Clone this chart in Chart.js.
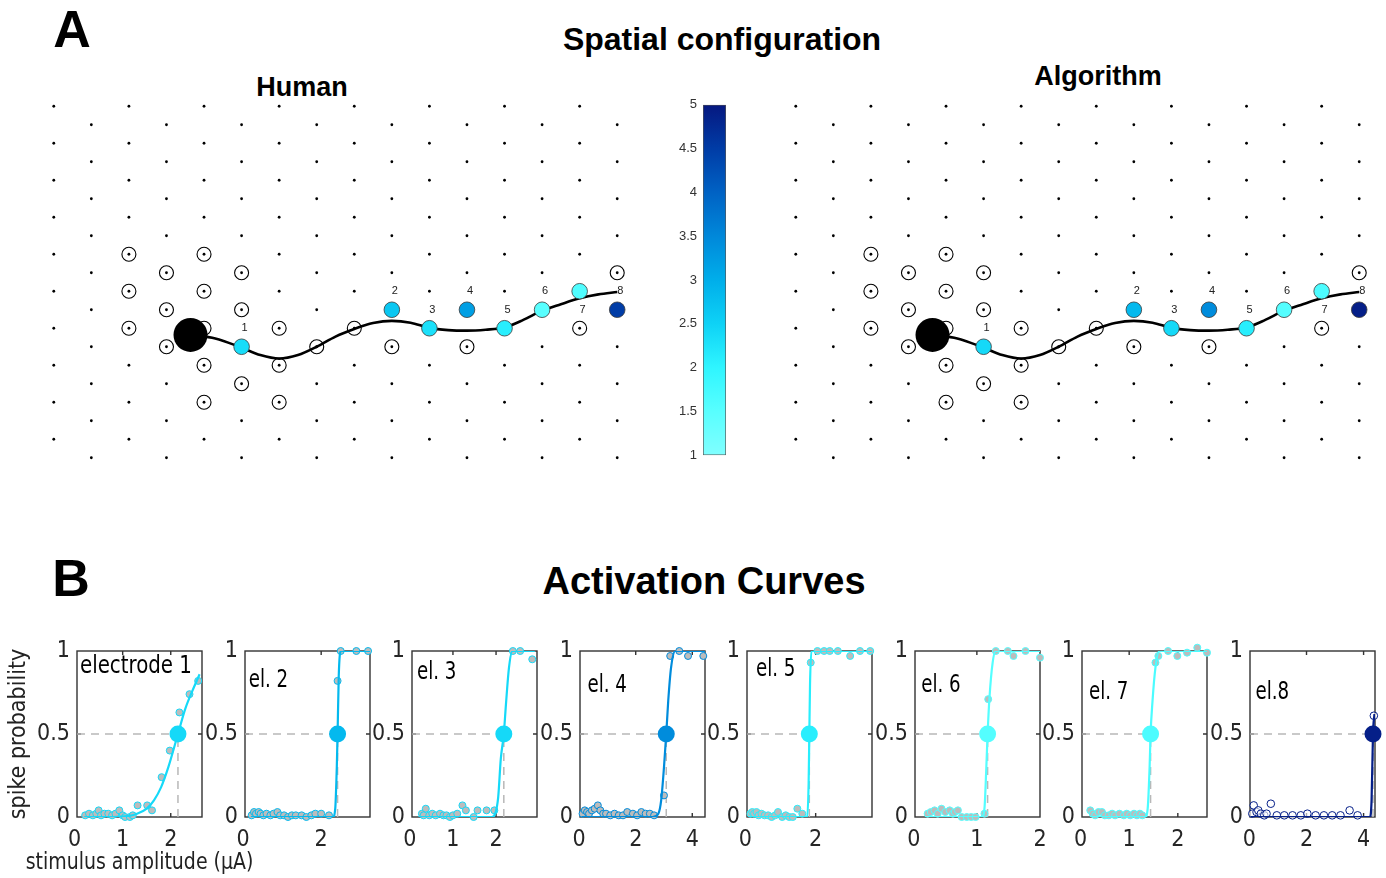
<!DOCTYPE html>
<html><head><meta charset="utf-8">
<script src="https://cdn.jsdelivr.net/npm/chart.js"></script>
<style>
html,body{margin:0;padding:0;background:#fff;width:1386px;height:878px;overflow:hidden;position:relative;font-family:"Liberation Sans",Arial,sans-serif}
canvas{position:absolute}
.t{position:absolute;font-weight:bold;color:#000;line-height:1;white-space:nowrap;transform:translate(-50%,-50%)}
</style></head><body>
<div class="t" style="left:72px;top:29px;font-size:52px">A</div>
<div class="t" style="left:722px;top:39px;font-size:32px">Spatial configuration</div>
<div class="t" style="left:302px;top:87px;font-size:27px">Human</div>
<div class="t" style="left:1098px;top:76px;font-size:27px">Algorithm</div>
<div class="t" style="left:71px;top:578px;font-size:52px">B</div>
<div class="t" style="left:704px;top:581px;font-size:38px">Activation Curves</div>
<script>
// ---------------- DATA: panel A (electrode array, grid units) ----------------
const gridColumns = [0,1,2,3,4,5,6,7,8,9,10,11,12,13,14,15];
const gridRows = [0,1,2,3,4,5,6,7,8,9,10,11,12,13,14,15,16,17,18,19];
const ringCols = [2,4,3,5,15,2,4,3,5,2,4,6,8,14,3,7,9,11,4,6,5,4,6];
const ringRows = [8,8,9,9,9,10,10,11,11,12,12,12,12,12,13,13,13,13,14,14,15,16,16];
const stimCols = [5,9,10,11,12,13,14,15];
const stimRows = [13,11,12,11,12,11,10,11];
const stimNumbers = ['1','2','3','4','5','6','7','8'];
const labelCols = [5,9,10,11,12,13,14,15];
const labelRows = [12,10,11,10,11,10,11,10];
const somaPos = [3.64, 12.36];
const axonCols = [3.64,4.3,5,5.5,6,6.5,7,7.5,8,8.5,9,9.5,10,10.5,11,11.5,12,12.5,13,13.5,14,14.5,15];
const axonRows = [12.36,12.55,13.05,13.45,13.64,13.45,13.0,12.45,12.04,11.72,11.6,11.7,11.98,12.1,12.13,12.08,11.96,11.55,11.05,10.7,10.38,10.17,10.04];
const humanValues = [2.35,2.65,2.3,3.2,2.1,1.5,1.6,4.5];
const algorithmValues = [2.4,2.85,2.4,3.45,2.1,1.55,1.65,4.9];
const colorbarRange = [1,5];
const colorbarTicks = [1,1.5,2,2.5,3,3.5,4,4.5,5];
const colormapValues = [1,1.5,2,2.5,3,3.5,4,4.5,5];
const colormapColors = ['#80ffff','#58ffff','#2ff5ff','#0ed2f6','#00aeea','#0088da','#0062c4','#003ca6','#061880'];

// ---------------- DATA: panel B (activation curves) ----------------
const curveNames = ['electrode 1','el. 2','el. 3','el. 4','el. 5','el. 6','el. 7','el.8'];
const ampMin = [0.05,0.05,0.05,0.03,0.05,0.02,0.03,0.02];
const ampMax = [2.65,3.25,2.95,4.45,3.6,2.0,2.6,4.4];
const ampTicks = [[0,1,2],[0,2],[0,1,2],[0,2,4],[0,2],[0,1,2],[0,1,2],[0,2,4]];
const probTicks = [0,0.5,1];
const thresholds = [2.15,2.42,2.18,3.08,1.82,1.17,1.44,4.33];
const measuredAmps = [
 [0.22,0.3,0.38,0.45,0.5,0.55,0.62,0.7,0.78,0.85,0.93,1.0,1.05,1.15,1.21,1.31,1.51,1.61,1.81,1.98,2.18,2.39,2.57],
 [0.22,0.28,0.33,0.4,0.45,0.52,0.6,0.7,0.78,0.88,0.95,1.05,1.15,1.25,1.35,1.5,1.62,1.75,1.85,2.0,2.2,2.42,2.5,2.9,3.2],
 [0.28,0.32,0.37,0.45,0.52,0.6,0.7,0.78,0.85,0.93,1.0,1.1,1.22,1.3,1.48,1.57,1.78,1.96,2.39,2.56,2.84],
 [0.12,0.2,0.28,0.35,0.45,0.55,0.66,0.75,0.85,0.95,1.1,1.25,1.4,1.55,1.7,1.9,2.05,2.2,2.35,2.5,2.65,3.0,3.22,3.54,3.85,4.39],
 [0.15,0.2,0.25,0.32,0.38,0.46,0.55,0.65,0.75,0.85,0.93,1.05,1.15,1.25,1.35,1.48,1.62,1.86,2.05,2.24,2.4,2.63,2.98,3.26,3.55],
 [0.22,0.27,0.33,0.38,0.44,0.5,0.57,0.62,0.65,0.7,0.76,0.84,0.91,0.98,1.12,1.18,1.3,1.49,1.58,1.77,2.0],
 [0.2,0.25,0.3,0.37,0.44,0.5,0.58,0.65,0.71,0.8,0.89,0.95,1.02,1.1,1.16,1.22,1.27,1.54,1.6,1.8,1.99,2.19,2.4,2.6],
 [0.1,0.15,0.25,0.31,0.4,0.52,0.6,0.75,0.96,1.22,1.51,1.8,2.03,2.32,2.61,2.9,3.19,3.51,3.79,4.36]
];
const measuredProbs = [
 [0.01,0.02,0.01,0.02,0.04,0.01,0.02,0.02,0.01,0.02,0.04,0.01,0,0,0.01,0.07,0.07,0.04,0.24,0.4,0.63,0.74,0.82],
 [0.01,0.03,0.02,0.03,0.02,0.01,0.02,0.01,0.02,0.03,0.01,0.01,0,0.01,0.01,0.01,0,0.01,0.02,0.02,0.01,0.82,1,1,1],
 [0.02,0.01,0.05,0.01,0.02,0.01,0.02,0.01,0.01,0,0.01,0.02,0.07,0.04,0,0.04,0.04,0.04,1,1,0.95],
 [0.02,0.04,0.03,0.02,0.04,0.05,0.07,0.04,0.02,0.02,0.01,0.02,0.01,0.01,0.03,0.02,0.01,0.03,0.02,0.02,0.01,0.13,0.97,1,0.97,0.97],
 [0.02,0.03,0.02,0.03,0.01,0.02,0.01,0.01,0,0.01,0.03,0,0.01,0,0,0.05,0.02,0.93,1,1,1,1,0.97,1,1],
 [0.02,0.03,0.04,0.02,0.05,0.03,0.04,0.02,0.03,0.04,0,0,0,0,0.02,0.71,1,1,0.97,1,0.96],
 [0.04,0.02,0.01,0.03,0.03,0.01,0.01,0.02,0.01,0.02,0.01,0.02,0.01,0.02,0.01,0.02,0.01,0.93,0.97,1,0.97,0.99,1.02,0.99],
 [0.02,0.07,0.03,0.04,0.02,0.01,0.02,0.08,0.01,0.01,0.01,0.01,0.02,0.01,0.01,0.01,0.01,0.04,0.01,0.61]
];
const fitAmps = [
 [0.2,0.8,1.1,1.3,1.5,1.65,1.8,1.95,2.15,2.3,2.45,2.6],
 [0.2,2.3,2.36,2.4,2.42,2.45,2.5,3.25],
 [0.2,1.9,1.98,2.05,2.11,2.18,2.23,2.3,2.38,2.9],
 [0.1,2.6,2.8,2.9,3.0,3.08,3.15,3.25,3.4,4.45],
 [0.1,1.76,1.8,1.82,1.84,1.88,3.6],
 [0.2,1.08,1.12,1.15,1.17,1.2,1.25,1.3,2.0],
 [0.2,1.33,1.38,1.42,1.44,1.48,1.54,1.62,2.6],
 [0.05,4.22,4.28,4.33,4.38]
];
const fitProbs = [
 [0,0,0.005,0.02,0.05,0.1,0.18,0.3,0.5,0.65,0.76,0.86],
 [0,0,0.05,0.3,0.5,0.85,1,1],
 [0,0,0.02,0.12,0.35,0.5,0.68,0.9,1,1],
 [0,0,0.02,0.1,0.3,0.5,0.7,0.9,1,1],
 [0,0,0.2,0.5,0.8,1,1],
 [0,0,0.05,0.3,0.5,0.72,0.93,1,1],
 [0,0,0.05,0.3,0.5,0.7,0.9,1,1],
 [0,0,0.1,0.5,0.62]
];

// ---------------- helpers ----------------
function hexToRgb(h){const n=parseInt(h.slice(1),16);return [(n>>16)&255,(n>>8)&255,n&255];}
function valueColor(v){
  for(let k=0;k<colormapValues.length-1;k++){
    const a=colormapValues[k],b=colormapValues[k+1];
    if(v<=b||k===colormapValues.length-2){
      const t=Math.max(0,Math.min(1,(v-a)/(b-a)));
      const c1=hexToRgb(colormapColors[k]),c2=hexToRgb(colormapColors[k+1]);
      const c=c1.map((x,i)=>Math.round(x+(c2[i]-x)*t));
      return 'rgb('+c.join(',')+')';
    }
  }
}
function hasFont(name){
  const c=document.createElement('canvas').getContext('2d');
  const s='electrode probability 0.5';
  for(const base of ['monospace','serif']){
    c.font='40px '+base; const w0=c.measureText(s).width;
    c.font='40px "'+name+'", '+base; const w1=c.measureText(s).width;
    if(Math.abs(w0-w1)>0.5) return true;
  }
  return false;
}
const NARROW=['Liberation Sans Narrow','Arial Narrow','DejaVu Sans Condensed','Roboto Condensed'].find(hasFont);
const BFAM = NARROW ? '"'+NARROW+'", "Liberation Sans", sans-serif' : '"Liberation Sans", sans-serif';
const BSCALE = NARROW==='Liberation Sans Narrow'||NARROW==='Arial Narrow' ? 1 : (NARROW ? 0.88 : 0.82);
const TEXT_SX = NARROW==='Liberation Sans Narrow'||NARROW==='Arial Narrow' ? 1 : 0.88;

const annotPlugin={
  id:'annot',
  afterDatasetsDraw(chart,args,opts){
    if(!opts||!opts.items) return;
    const {ctx,chartArea:a,scales}=chart;
    for(const it of opts.items){
      let px,py;
      if(it.space==='data'){px=scales.x.getPixelForValue(it.x);py=scales.y.getPixelForValue(it.y);}
      else{px=a.left+it.fx*(a.right-a.left);py=a.top+it.fy*(a.bottom-a.top);}
      ctx.save();
      ctx.font=it.font;ctx.fillStyle=it.color||'#000';
      ctx.textAlign=it.align||'center';ctx.textBaseline='middle';
      ctx.translate(px+(it.dx||0),py+(it.dy||0));
      if(it.sx) ctx.scale(it.sx,1);
      ctx.fillText(it.text,0,0);
      ctx.restore();
    }
  }
};
const boxPlugin={
  id:'axesBox',
  beforeDatasetsDraw(chart,args,opts){
    if(!opts||!opts.enabled) return;
    const {ctx,chartArea:a,scales:{x,y}}=chart;
    ctx.save();
    ctx.strokeStyle=opts.color;ctx.lineWidth=opts.width;
    ctx.strokeRect(a.left,a.top,a.right-a.left,a.bottom-a.top);
    const L=opts.tick;
    ctx.beginPath();
    if(opts.xticks) x.ticks.forEach(t=>{const p=x.getPixelForValue(t.value);if(p<a.left+2||p>a.right-2)return;
      ctx.moveTo(p,a.bottom);ctx.lineTo(p,a.bottom-L);ctx.moveTo(p,a.top);ctx.lineTo(p,a.top+L);});
    y.ticks.forEach(t=>{const p=y.getPixelForValue(t.value);if(p<a.top+2||p>a.bottom-2)return;
      ctx.moveTo(a.left,p);ctx.lineTo(a.left+L,p);if(opts.xticks){ctx.moveTo(a.right,p);ctx.lineTo(a.right-L,p);}});
    ctx.stroke();ctx.restore();
  }
};
Chart.register(annotPlugin,boxPlugin);

function makeCanvas(left,top,w,h){
  const c=document.createElement('canvas');
  c.width=w;c.height=h;c.style.left=left+'px';c.style.top=top+'px';c.style.width=w+'px';c.style.height=h+'px';
  document.body.appendChild(c);return c;
}

// ---------------- panel A maps ----------------
function drawMap(left,values){
  const canvas=makeCanvas(left,97,601,370);
  const gridPts=[];
  gridRows.forEach(j=>gridColumns.forEach(i=>{if((i+j)%2===0)gridPts.push({x:i,y:j});}));
  const rings=ringCols.map((c,k)=>({x:c,y:ringRows[k]}));
  const stims=stimCols.map((c,k)=>({x:c,y:stimRows[k]}));
  const axon=axonCols.map((c,k)=>({x:c,y:axonRows[k]}));
  const labels=labelCols.map((c,k)=>({space:'data',x:c,y:labelRows[k],dx:3,text:stimNumbers[k],
    font:'11px "Liberation Sans", sans-serif',color:'#222'}));
  new Chart(canvas,{
    type:'scatter',
    data:{datasets:[
      {label:'stimulated electrodes',data:stims,pointRadius:7.8,pointHoverRadius:7.8,
       backgroundColor:values.map(valueColor),borderColor:'#3a3a3a',borderWidth:0.8,order:0,clip:false},
      {label:'soma',data:[{x:somaPos[0],y:somaPos[1]}],pointRadius:17,pointHoverRadius:17,backgroundColor:'#000',borderColor:'#000',borderWidth:0,order:1,clip:false},
      {label:'axon',data:axon,showLine:true,borderColor:'#000',borderWidth:2.6,pointRadius:0,cubicInterpolationMode:'monotone',order:2,clip:false},
      {label:'recording electrodes',data:rings,pointRadius:7,pointHoverRadius:7,backgroundColor:'rgba(0,0,0,0)',borderColor:'#000',borderWidth:1.1,order:3,clip:false},
      {label:'array',data:gridPts,pointRadius:1.4,pointHoverRadius:1.4,backgroundColor:'#000',borderWidth:0,order:4,clip:false}
    ]},
    options:{responsive:false,animation:false,devicePixelRatio:1,layout:{padding:0,autoPadding:false},
      events:[],
      scales:{x:{type:'linear',min:-0.5,max:15.5,display:false},
              y:{type:'linear',min:-0.5,max:19.5,reverse:true,display:false}},
      plugins:{legend:{display:false},tooltip:{enabled:false},annot:{items:labels}}}
  });
}
drawMap(35,humanValues);
drawMap(777,algorithmValues);

// ---------------- colorbar ----------------
(function(){
  const canvas=makeCanvas(663,91,67,378);
  new Chart(canvas,{
    type:'bar',
    data:{labels:['colorbar'],datasets:[{label:'scale',data:[colorbarRange],
      backgroundColor:(ctx)=>{const ch=ctx.chart;const y=ch.scales.y;if(!y||!ch.chartArea)return '#0af';
        const g=ch.ctx.createLinearGradient(0,y.getPixelForValue(colorbarRange[0]),0,y.getPixelForValue(colorbarRange[1]));
        colormapValues.forEach((v,k)=>g.addColorStop((v-colorbarRange[0])/(colorbarRange[1]-colorbarRange[0]),colormapColors[k]));return g;},
      borderColor:'#555',borderWidth:1,borderSkipped:false,barPercentage:1,categoryPercentage:1}]},
    options:{responsive:false,animation:false,devicePixelRatio:1,events:[],
      layout:{padding:{top:12,bottom:12,left:0,right:4},autoPadding:false},
      scales:{x:{display:false},
        y:{type:'linear',min:colorbarRange[0],max:colorbarRange[1],
          afterBuildTicks:s=>{s.ticks=colorbarTicks.map(v=>({value:v}));},
          afterFit:s=>{s.width=40;},
          grid:{display:false,drawTicks:false},border:{display:false},
          ticks:{padding:6,color:'#333',font:{family:'"Liberation Sans", sans-serif',size:13},callback:v=>String(v)}}},
      plugins:{legend:{display:false},tooltip:{enabled:false}}}
  });
})();

// ---------------- panel B ----------------
for(let k=0;k<8;k++){
  const boxL=Math.round(77+167.5*k), boxW=125;
  const yW = k===0?77:50, padR = k===0?68:20;
  const canvas=makeCanvas(boxL-yW,630,yW+boxW+padR,248);
  const col=valueColor(algorithmValues[k]);
  const thr=thresholds[k];
  const items=[{space:'area',fx:[0.024,0.03,0.04,0.06,0.072,0.05,0.056,0.044][k],fy:[0.095,0.18,0.13,0.205,0.11,0.21,0.247,0.247][k],
    align:'left',text:curveNames[k],font:Math.round(28*BSCALE)+'px '+BFAM,color:'#000',sx:k===0?TEXT_SX*1.0:TEXT_SX*0.92}];
  if(k===0) items.push({space:'area',fx:0.5,fy:1.277,align:'center',text:'stimulus amplitude (\u03bcA)',font:Math.round(26*BSCALE)+'px '+BFAM,color:'#222',sx:TEXT_SX*1.04});
  const tickFont={family:BFAM,size:Math.round(26*BSCALE)};
  new Chart(canvas,{
    type:'scatter',
    data:{datasets:[
      {label:'threshold',data:[{x:thr,y:0.5}],pointRadius:8.5,pointHoverRadius:8.5,backgroundColor:col,borderColor:col,borderWidth:0,order:0,clip:false},
      {label:'fit',data:fitAmps[k].map((a,i)=>({x:a,y:fitProbs[k][i]})),showLine:true,borderColor:col,borderWidth:2.2,pointRadius:0,cubicInterpolationMode:'monotone',order:1},
      {label:'measured',data:measuredAmps[k].map((a,i)=>({x:a,y:measuredProbs[k][i]})),pointRadius:k===7?3.8:3.5,pointHoverRadius:3.5,
        backgroundColor:k===7?'rgba(255,255,255,0.6)':'#bcbcbc',borderColor:col,borderWidth:1,order:2,clip:false},
      {label:'half level',data:[{x:ampMin[k],y:0.5},{x:thr,y:0.5}],showLine:true,borderColor:'#b8b8b8',borderWidth:1.5,borderDash:[8,6],pointRadius:0,order:3},
      {label:'threshold level',data:[{x:thr,y:0},{x:thr,y:0.5}],showLine:true,borderColor:'#b8b8b8',borderWidth:1.5,borderDash:[8,6],pointRadius:0,order:3}
    ]},
    options:{responsive:false,animation:false,devicePixelRatio:1,events:[],
      layout:{padding:{top:21,bottom:0,left:0,right:padR},autoPadding:false},
      scales:{
        x:{type:'linear',min:ampMin[k],max:ampMax[k],
          afterBuildTicks:s=>{s.ticks=ampTicks[k].map(v=>({value:v}));},
          afterFit:s=>{s.height=61;},
          grid:{display:false,drawTicks:false},border:{display:false},
          ticks:{autoSkip:false,maxRotation:0,padding:9,color:'#262626',font:tickFont,callback:v=>String(v)}},
        y:{type:'linear',min:0,max:1,
          afterBuildTicks:s=>{s.ticks=probTicks.map(v=>({value:v}));},
          afterFit:s=>{s.width=yW;},
          grid:{display:false,drawTicks:false},border:{display:false},
          title:{display:k===0,text:'spike probability',color:'#222',font:{family:BFAM,size:Math.round(26*BSCALE)},padding:{top:5,bottom:0}},
          ticks:{padding:7,color:'#262626',font:tickFont,callback:v=>String(v)}}},
      plugins:{legend:{display:false},tooltip:{enabled:false},
        axesBox:{enabled:true,color:'#333',width:1.4,tick:4,xticks:true},
        annot:{items:items}}}
  });
}
</script>
</body></html>
